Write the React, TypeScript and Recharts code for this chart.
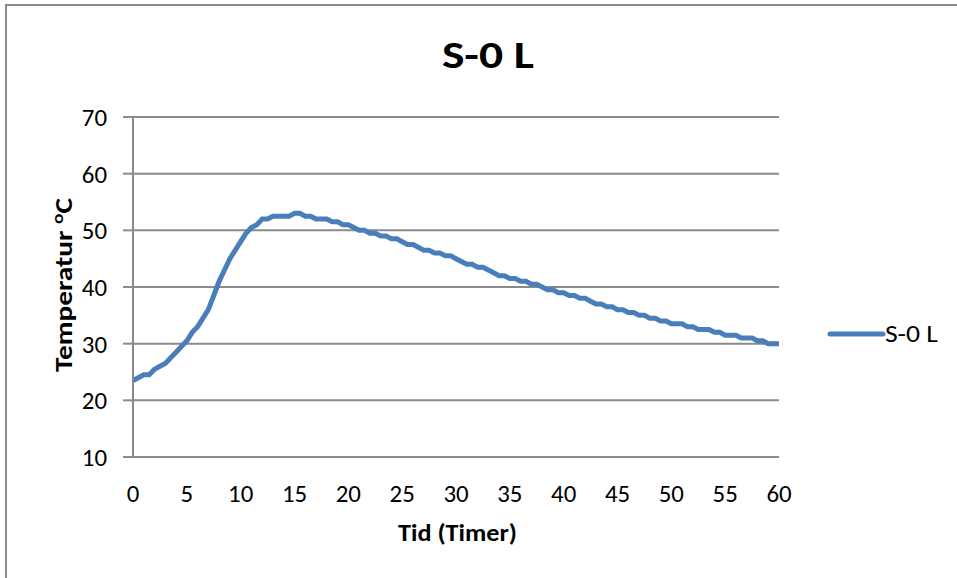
import React from "react";
import { LineChart, Line, XAxis, YAxis, CartesianGrid, Legend } from "recharts";

const chartTitle = "S-0 L";
const seriesName = "S-0 L";
const xTitle = "Tid (Timer)";

const hours = [
  0, 0.5, 1, 1.5, 2, 2.5, 3, 3.5, 4, 4.5, 5, 5.5, 6, 6.5, 7, 7.5, 8, 8.5, 9, 9.5,
  10, 10.5, 11, 11.5, 12, 12.5, 13, 13.5, 14, 14.5, 15, 15.5, 16, 16.5, 17, 17.5, 18, 18.5, 19, 19.5,
  20, 20.5, 21, 21.5, 22, 22.5, 23, 23.5, 24, 24.5, 25, 25.5, 26, 26.5, 27, 27.5, 28, 28.5, 29, 29.5,
  30, 30.5, 31, 31.5, 32, 32.5, 33, 33.5, 34, 34.5, 35, 35.5, 36, 36.5, 37, 37.5, 38, 38.5, 39, 39.5,
  40, 40.5, 41, 41.5, 42, 42.5, 43, 43.5, 44, 44.5, 45, 45.5, 46, 46.5, 47, 47.5, 48, 48.5, 49, 49.5,
  50, 50.5, 51, 51.5, 52, 52.5, 53, 53.5, 54, 54.5, 55, 55.5, 56, 56.5, 57, 57.5, 58, 58.5, 59, 59.5,
  60,
];

const temperatures = [
  23.5, 24, 24.5, 24.5, 25.5, 26, 26.5, 27.5, 28.5, 29.5, 30.5, 32, 33, 34.5, 36, 38.5, 41, 43, 45, 46.5,
  48, 49.5, 50.5, 51, 52, 52, 52.5, 52.5, 52.5, 52.5, 53, 53, 52.5, 52.5, 52, 52, 52, 51.5, 51.5, 51,
  51, 50.5, 50, 50, 49.5, 49.5, 49, 49, 48.5, 48.5, 48, 47.5, 47.5, 47, 46.5, 46.5, 46, 46, 45.5, 45.5,
  45, 44.5, 44, 44, 43.5, 43.5, 43, 42.5, 42, 42, 41.5, 41.5, 41, 41, 40.5, 40.5, 40, 39.5, 39.5, 39,
  39, 38.5, 38.5, 38, 38, 37.5, 37, 37, 36.5, 36.5, 36, 36, 35.5, 35.5, 35, 35, 34.5, 34.5, 34, 34,
  33.5, 33.5, 33.5, 33, 33, 32.5, 32.5, 32.5, 32, 32, 31.5, 31.5, 31.5, 31, 31, 31, 30.5, 30.5, 30, 30,
  30,
];

const xTicks = [0, 5, 10, 15, 20, 25, 30, 35, 40, 45, 50, 55, 60];
const yTicks = [10, 20, 30, 40, 50, 60, 70];

const data = hours.map((h, i) => ({ t: h, v: temperatures[i] }));

const FONT = "Carlito, Calibri, Lato, 'Open Sans', sans-serif";
const GRID = "#8a8a8a";
const BLUE = "#4a7ebb";

const XTick = (props: any) => {
  const { x, payload } = props;
  const s = String(payload.value);
  return (
    <text
      x={x}
      y={502}
      textAnchor="middle"
      fontFamily={FONT}
      fontSize={24}
      fill="#000"
      textLength={s.length * 12.6}
      lengthAdjust="spacingAndGlyphs"
    >
      {s}
    </text>
  );
};

const YTick = (props: any) => {
  const { y, payload } = props;
  const s = String(payload.value);
  return (
    <text
      x={107}
      y={y + 9}
      textAnchor="end"
      fontFamily={FONT}
      fontSize={24}
      fill="#000"
      textLength={s.length * 12.6}
      lengthAdjust="spacingAndGlyphs"
    >
      {s}
    </text>
  );
};

const XLabel = () => (
  <text
    x={457.5}
    y={541}
    textAnchor="middle"
    fontFamily={FONT}
    fontSize={24}
    fontWeight="bold"
    fill="#000"
    textLength={119}
    lengthAdjust="spacingAndGlyphs"
  >
    {xTitle}
  </text>
);

const YLabel = () => (
  <text
    transform="translate(72,285) rotate(-90)"
    textAnchor="middle"
    fontFamily={FONT}
    fontSize={24}
    fontWeight="bold"
    fill="#000"
    textLength={174}
    lengthAdjust="spacingAndGlyphs"
  >
    Temperatur{" "}
    <tspan fontSize={16} dy={-9}>
      o
    </tspan>
    <tspan dy={9}>C</tspan>
  </text>
);

const LegendContent = () => (
  <svg width={120} height={30} style={{ display: "block", overflow: "visible" }}>
    <line x1={2} y1={14} x2={55} y2={14} stroke={BLUE} strokeWidth={5} strokeLinecap="round" />
    <text x={57} y={22} fontFamily={FONT} fontSize={24} fill="#000" textLength={53} lengthAdjust="spacingAndGlyphs">
      {seriesName}
    </text>
  </svg>
);

export default function App() {
  return (
    <div
      style={{
        position: "absolute",
        left: 0,
        top: 0,
        width: 957,
        height: 578,
        background: "#fff",
        overflow: "hidden",
      }}
    >
      <div
        style={{
          position: "absolute",
          left: 5,
          top: 4,
          width: 1100,
          height: 700,
          borderLeft: `2px solid ${GRID}`,
          borderTop: `2px solid ${GRID}`,
          boxSizing: "border-box",
        }}
      />
      <div style={{ position: "absolute", left: 0, top: 0 }}>
        <LineChart
          width={957}
          height={578}
          data={data}
          margin={{ top: 117, right: 178, bottom: 0, left: 0 }}
        >
          <CartesianGrid horizontal vertical={false} stroke={GRID} strokeWidth={2} />
          <XAxis
            dataKey="t"
            type="number"
            domain={[0, 60]}
            ticks={xTicks}
            interval={0}
            height={121}
            axisLine={{ stroke: GRID, strokeWidth: 2 }}
            tickLine={false}
            tick={<XTick />}
            label={<XLabel />}
          />
          <YAxis
            domain={[10, 70]}
            ticks={yTicks}
            interval={0}
            width={133}
            axisLine={{ stroke: GRID, strokeWidth: 2 }}
            tickLine={{ stroke: GRID, strokeWidth: 2 }}
            tickSize={10}
            tick={<YTick />}
            label={<YLabel />}
          />
          <Legend
            content={<LegendContent />}
            wrapperStyle={{
              position: "absolute",
              left: 828,
              top: 320,
              width: 0,
              height: 0,
              overflow: "visible",
            }}
          />
          <Line
            type="linear"
            dataKey="v"
            name={seriesName}
            stroke={BLUE}
            strokeWidth={5}
            dot={false}
            isAnimationActive={false}
          />
        </LineChart>
      </div>
      <svg
        width={957}
        height={100}
        style={{ position: "absolute", left: 0, top: 0, pointerEvents: "none" }}
      >
        <text
          x={488}
          y={68}
          textAnchor="middle"
          fontFamily={FONT}
          fontSize={39}
          fontWeight="bold"
          fill="#000"
          textLength={92}
          lengthAdjust="spacingAndGlyphs"
        >
          {chartTitle}
        </text>
      </svg>
    </div>
  );
}
